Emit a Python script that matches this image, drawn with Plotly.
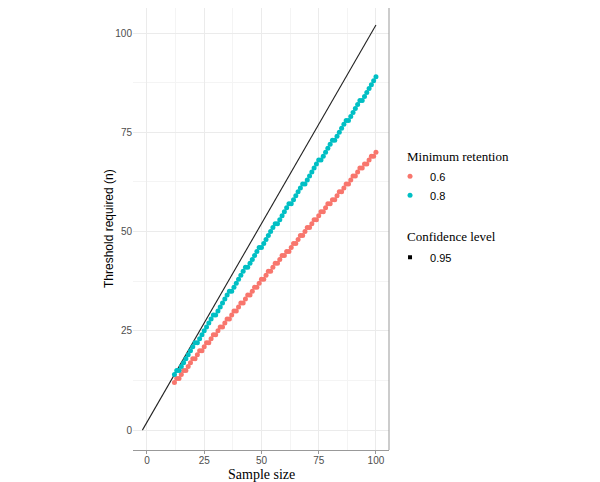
import plotly.graph_objects as go

sample_size = list(range(12, 101))

# threshold for minimum retention 0.6
thr_06 = [12, 13, 13, 14, 15, 15, 16, 17, 18, 18,
          19, 20, 20, 21, 22, 22, 23, 24, 24, 25,
          26, 26, 27, 28, 28, 29, 30, 30, 31, 32,
          32, 33, 34, 34, 35, 36, 36, 37, 38, 38,
          39, 40, 40, 41, 42, 42, 43, 44, 44, 45,
          45, 46, 47, 47, 48, 49, 49, 50, 51, 51,
          52, 53, 53, 54, 55, 55, 56, 57, 57, 58,
          58, 59, 60, 60, 61, 62, 62, 63, 64, 64,
          65, 66, 66, 67, 67, 68, 69, 69, 70]

# threshold for minimum retention 0.8
thr_08 = [14, 15, 15, 16, 17, 18, 19, 20, 21, 22,
          22, 23, 24, 25, 26, 27, 28, 29, 29, 30,
          31, 32, 33, 34, 35, 35, 36, 37, 38, 39,
          40, 41, 41, 42, 43, 44, 45, 46, 46, 47,
          48, 49, 50, 51, 52, 52, 53, 54, 55, 56,
          57, 57, 58, 59, 60, 61, 62, 62, 63, 64,
          65, 66, 67, 68, 68, 69, 70, 71, 72, 73,
          73, 74, 75, 76, 77, 78, 78, 79, 80, 81,
          82, 83, 83, 84, 85, 86, 87, 88, 89]

# confidence level 0.95 reference line
conf_x = [-2, 100]
conf_y = [0, 102]

sans = "Liberation Sans, Arial, sans-serif"
serif = "Liberation Serif, Times New Roman, serif"

fig = go.Figure()
fig.add_trace(go.Scatter(x=conf_x, y=conf_y, mode="lines",
                         line=dict(color="#222222", width=1.1), showlegend=False))
fig.add_trace(go.Scatter(x=sample_size, y=thr_06, mode="markers", name="0.6",
                         marker=dict(color="#F8766D", size=5), legendgroup="ret"))
fig.add_trace(go.Scatter(x=sample_size, y=thr_08, mode="markers", name="0.8",
                         marker=dict(color="#00BFC4", size=5), legendgroup="ret"))
fig.add_trace(go.Scatter(x=[None], y=[None], mode="markers", name="0.95",
                         marker=dict(color="black", size=4, symbol="square"),
                         legendgroup="conf"))

# page body has an 8px margin, so the figure is a bit smaller than the window
fig.update_layout(
    width=592, height=474,
    margin=dict(l=125, r=211, t=0, b=32),
    plot_bgcolor="white", paper_bgcolor="white",
    font=dict(family=sans, size=10, color="#4d4d4d"),
    xaxis=dict(range=[-6.1, 105.7], tickvals=[0, 25, 50, 75, 100], automargin=False,
               showgrid=True, gridcolor="#ebebeb", gridwidth=1,
               minor=dict(tickvals=[12.5, 37.5, 62.5, 87.5], showgrid=True, gridcolor="#f4f4f4"),
               zeroline=False, showline=True, linecolor="#999999", linewidth=1,
               ticks="outside", ticklen=3, tickcolor="#999999", ticklabelstandoff=-2,
               tickfont=dict(family=sans, size=10, color="#4d4d4d")),
    yaxis=dict(range=[-5.0, 106.3], tickvals=[0, 25, 50, 75, 100], automargin=False,
               showgrid=True, gridcolor="#ebebeb", gridwidth=1,
               minor=dict(tickvals=[12.5, 37.5, 62.5, 87.5], showgrid=True, gridcolor="#f4f4f4"),
               zeroline=False, showline=False, ticks="",
               tickfont=dict(family=sans, size=10, color="#4d4d4d")),
    legend=dict(x=1.004, y=0.652, xanchor="left", yanchor="top",
                font=dict(family=sans, size=11, color="black"),
                tracegroupgap=43, itemwidth=30),
    shapes=[dict(type="line", xref="paper", yref="paper", x0=1, x1=1, y0=0, y1=1,
                 line=dict(color="#999999", width=1))],
    annotations=[
        dict(text="Sample size", xref="paper", yref="paper", x=0.5, y=0, yshift=-15,
             xanchor="center", yanchor="top", showarrow=False,
             font=dict(family=serif, size=14, color="black")),
        dict(text="Threshold required (n)", xref="paper", yref="paper", x=0, xshift=-15, y=0.5,
             xanchor="right", yanchor="middle", textangle=-90, showarrow=False,
             font=dict(family=sans, size=12, color="black")),
        dict(text="Minimum retention", xref="paper", yref="paper", x=1.0625, y=0.663,
             xanchor="left", yanchor="middle", showarrow=False,
             font=dict(family=serif, size=13, color="black")),
        dict(text="Confidence level", xref="paper", yref="paper", x=1.0625, y=0.482,
             xanchor="left", yanchor="middle", showarrow=False,
             font=dict(family=serif, size=13, color="black")),
    ],
)

fig.write_html("out.html")
